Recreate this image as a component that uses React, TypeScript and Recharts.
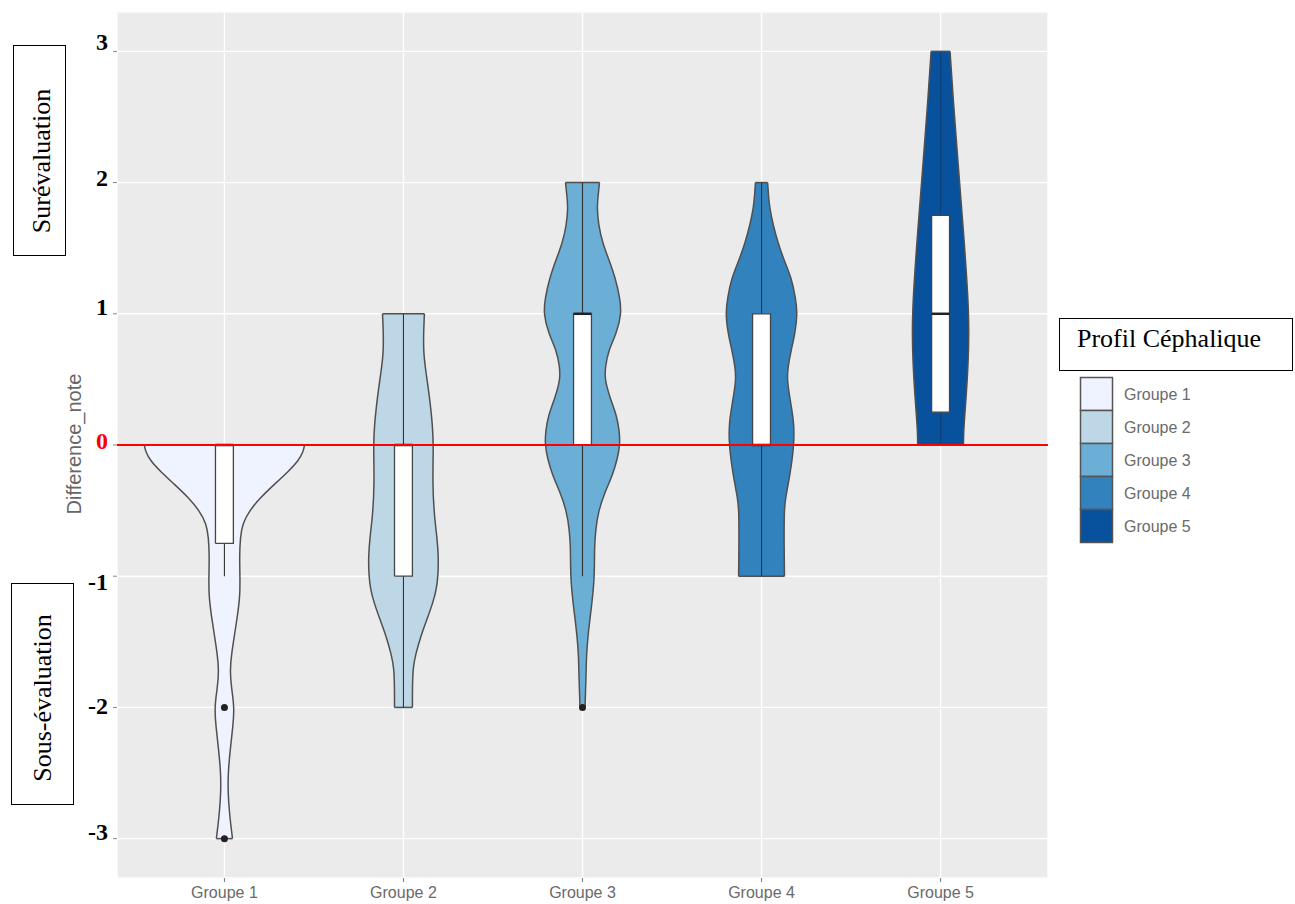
import { Area, CartesianGrid, ComposedChart, Line, ReferenceLine, XAxis, YAxis } from 'recharts'

// categories and colours
const groups = ['Groupe 1', 'Groupe 2', 'Groupe 3', 'Groupe 4', 'Groupe 5']
const centers = [1, 2, 3, 4, 5]
const fills = ['#EFF3FF', '#BDD7E7', '#6BAED6', '#3182BD', '#08519C']

// violin profiles: [Difference_note, half width in category units]
const violin1 = [
  [0, 0.447], [-0.05, 0.441], [-0.12, 0.413], [-0.2, 0.358], [-0.3, 0.279], [-0.4, 0.201],
  [-0.5, 0.14], [-0.6, 0.101], [-0.7, 0.089], [-0.85, 0.084], [-1.0, 0.087], [-1.15, 0.087],
  [-1.3, 0.073], [-1.45, 0.056], [-1.6, 0.039], [-1.72, 0.031], [-1.85, 0.039], [-2.0, 0.056],
  [-2.15, 0.047], [-2.3, 0.034], [-2.5, 0.02], [-2.65, 0.02], [-2.8, 0.028], [-2.9, 0.036], [-3.0, 0.045],
]
const violin2 = [
  [1, 0.117], [0.85, 0.112], [0.7, 0.112], [0.55, 0.126], [0.45, 0.137], [0.3, 0.151], [0.15, 0.162],
  [0, 0.168], [-0.3, 0.162], [-0.55, 0.173], [-0.7, 0.187], [-0.85, 0.196], [-1.0, 0.193], [-1.1, 0.184],
  [-1.2, 0.165], [-1.33, 0.131], [-1.45, 0.098], [-1.6, 0.067], [-1.7, 0.053], [-1.85, 0.05], [-2.0, 0.05],
]
const violin3 = [
  [2, 0.095], [1.9, 0.087], [1.81, 0.081], [1.68, 0.089], [1.54, 0.112], [1.4, 0.151], [1.27, 0.184],
  [1.12, 0.209], [1.0, 0.218], [0.85, 0.19], [0.72, 0.145], [0.6, 0.128], [0.5, 0.123], [0.35, 0.156],
  [0.23, 0.19], [0.1, 0.207], [0, 0.209], [-0.1, 0.196], [-0.23, 0.168], [-0.35, 0.128], [-0.5, 0.089],
  [-0.65, 0.073], [-0.78, 0.067], [-0.92, 0.067], [-1.05, 0.064], [-1.2, 0.053], [-1.32, 0.042],
  [-1.45, 0.031], [-1.6, 0.022], [-1.75, 0.02], [-1.87, 0.017], [-2.0, 0.014],
]
const violin4 = [
  [2, 0.034], [1.9, 0.039], [1.81, 0.045], [1.68, 0.064], [1.54, 0.092], [1.4, 0.128], [1.27, 0.168],
  [1.12, 0.19], [1.0, 0.201], [0.85, 0.187], [0.72, 0.165], [0.6, 0.148], [0.5, 0.142], [0.35, 0.159],
  [0.17, 0.182], [0, 0.182], [-0.23, 0.159], [-0.4, 0.134], [-0.5, 0.126], [-0.78, 0.126], [-1.0, 0.128],
]
const violin5 = [
  [3, 0.053], [2.64, 0.07], [2.14, 0.098], [1.63, 0.128], [1.12, 0.154], [0.86, 0.159], [0.61, 0.154],
  [0.35, 0.142], [0.1, 0.128], [0, 0.128],
]
const violins = [violin1, violin2, violin3, violin4, violin5]

// boxplot stats
const boxLower = [-0.75, -1, 0, 0, 0.25]
const boxUpper = [0, 0, 1, 1, 1.75]
const medians = [0, 0, 1, 0, 1]
const whiskerLower = [-1, -2, -1, -1, 0]
const whiskerUpper = [0, 1, 2, 2, 3]
const outliers = [
  { x: 1, y: -2 },
  { x: 1, y: -3 },
  { x: 3, y: -2 },
]

const yTicks = [-3, -2, -1, 0, 1, 2, 3]
const yMinorTicks = [-2.5, -1.5, -0.5, 0.5, 1.5, 2.5]

const BOX_HALF = 0.05
const OUTLINE = '#505050'
const SERIF = "'Liberation Serif', 'Times New Roman', serif"
const SANS = "'Liberation Sans', Arial, sans-serif"

const violinData = (i: number) =>
  violins[i]
    .map(([y, w]) => ({ y, x: [centers[i] - w, centers[i] + w] }))
    .sort((a, b) => a.y - b.y)

const capData = (i: number, top: boolean) => {
  const prof = violins[i]
  const end = top ? prof[0] : prof[prof.length - 1]
  return [
    { y: end[0], x: centers[i] - end[1] },
    { y: end[0], x: centers[i] + end[1] },
  ]
}

const boxFill = (i: number) => [
  { y: boxLower[i], x: [centers[i] - BOX_HALF, centers[i] + BOX_HALF] },
  { y: boxUpper[i], x: [centers[i] - BOX_HALF, centers[i] + BOX_HALF] },
]
const boxOutline = (i: number) => [
  { y: boxLower[i], x: centers[i] - BOX_HALF },
  { y: boxLower[i], x: centers[i] + BOX_HALF },
  { y: boxUpper[i], x: centers[i] + BOX_HALF },
  { y: boxUpper[i], x: centers[i] - BOX_HALF },
  { y: boxLower[i], x: centers[i] - BOX_HALF },
]

// whisker hardly shows on the darkest violin
const whiskerColor = (i: number) => (i === 4 ? '#123f78' : '#333')

// nudges of the hand-placed y labels
const tickShift: Record<number, number> = { 3: -9, 2: -5, 1: -7, 0: -4, '-1': 6, '-2': -1, '-3': -7 }

const YTick = (props: any) => {
  const { x, y, payload } = props
  return (
    <text
      x={x}
      y={y + (tickShift[payload.value] ?? 0)}
      dy={8}
      textAnchor='end'
      fontFamily={SERIF}
      fontWeight='bold'
      fontSize={24}
      fill={payload.value === 0 ? '#FF0000' : '#000'}
    >
      {payload.value}
    </text>
  )
}

const XTick = (props: any) => {
  const { x, y, payload } = props
  return (
    <text x={x} y={y} dy={14} textAnchor='middle' fontFamily={SANS} fontSize={16} fill='#6a6a6a'>
      {groups[payload.value - 1]}
    </text>
  )
}

const App = () => {
  return (
    <div style={{ position: 'absolute', left: 0, top: 0, width: 1295, height: 904, background: '#fff' }}>
      <ComposedChart
        layout='vertical'
        width={1295}
        height={904}
        margin={{ top: 12, right: 247, bottom: 0, left: 0 }}
      >
        <CartesianGrid fill='#EBEBEB' stroke='#FFFFFF' strokeWidth={1.4} />
        <CartesianGrid yAxisId='minor' vertical={false} stroke='#F7F7F7' strokeWidth={0.7} />
        <XAxis
          type='number'
          domain={[0.4, 5.6]}
          ticks={centers}
          interval={0}
          allowDataOverflow
          axisLine={false}
          tickSize={4}
          tickLine={{ stroke: '#777' }}
          tick={<XTick />}
          height={26}
        />
        <YAxis
          type='number'
          dataKey='y'
          domain={[-3.3, 3.3]}
          ticks={yTicks}
          interval={0}
          allowDataOverflow
          reversed
          width={117}
          axisLine={false}
          tickSize={4}
          tickMargin={5}
          tickLine={{ stroke: '#888' }}
          tick={<YTick />}
        />
        <YAxis yAxisId='minor' type='number' dataKey='y' domain={[-3.3, 3.3]} ticks={yMinorTicks} reversed hide />

        {groups.map((g, i) => (
          <Area
            key={'violin' + i}
            data={violinData(i)}
            dataKey='x'
            type='basis'
            fill={fills[i]}
            fillOpacity={1}
            stroke={OUTLINE}
            strokeWidth={1.5}
            dot={false}
            activeDot={false}
            isAnimationActive={false}
          />
        ))}
        {groups.map((g, i) => (
          <Line key={'capT' + i} data={capData(i, true)} dataKey='x' stroke={OUTLINE} strokeWidth={1.5} dot={false} isAnimationActive={false} />
        ))}
        {groups.map((g, i) => (
          <Line key={'capB' + i} data={capData(i, false)} dataKey='x' stroke={OUTLINE} strokeWidth={1.5} dot={false} isAnimationActive={false} />
        ))}
        {groups.map((g, i) => (
          <Line
            key={'wl' + i}
            data={[{ y: whiskerLower[i], x: centers[i] }, { y: boxLower[i], x: centers[i] }]}
            dataKey='x'
            stroke={whiskerColor(i)}
            strokeWidth={1.1}
            dot={false}
            isAnimationActive={false}
          />
        ))}
        {groups.map((g, i) => (
          <Line
            key={'wu' + i}
            data={[{ y: boxUpper[i], x: centers[i] }, { y: whiskerUpper[i], x: centers[i] }]}
            dataKey='x'
            stroke={whiskerColor(i)}
            strokeWidth={1.1}
            dot={false}
            isAnimationActive={false}
          />
        ))}
        {groups.map((g, i) => (
          <Area
            key={'box' + i}
            data={boxFill(i)}
            dataKey='x'
            type='linear'
            fill='#FFFFFF'
            fillOpacity={1}
            stroke='none'
            dot={false}
            activeDot={false}
            isAnimationActive={false}
          />
        ))}
        {groups.map((g, i) => (
          <Line key={'boxo' + i} data={boxOutline(i)} dataKey='x' stroke='#454545' strokeWidth={1.3} dot={false} isAnimationActive={false} />
        ))}
        {groups.map((g, i) => (
          <Line
            key={'med' + i}
            data={[{ y: medians[i], x: centers[i] - BOX_HALF }, { y: medians[i], x: centers[i] + BOX_HALF }]}
            dataKey='x'
            stroke='#222'
            strokeWidth={2.5}
            dot={false}
            isAnimationActive={false}
          />
        ))}
        <Line
          data={outliers}
          dataKey='x'
          stroke='none'
          dot={{ r: 3.5, fill: '#222', stroke: '#222', strokeWidth: 0 }}
          activeDot={false}
          isAnimationActive={false}
        />
        <ReferenceLine y={0} stroke='#FF0000' strokeWidth={2} />
      </ComposedChart>

      <svg width={1295} height={904} style={{ position: 'absolute', left: 0, top: 0, pointerEvents: 'none' }}>
        <text
          x={74}
          y={444}
          transform='rotate(-90 74 444)'
          textAnchor='middle'
          dominantBaseline='central'
          fontFamily={SANS}
          fontSize={20}
          fill='#666'
        >
          Difference_note
        </text>

        <rect x={13.5} y={45.5} width={52} height={210} fill='#fff' stroke='#000' strokeWidth={1} />
        <text
          x={41}
          y={161}
          transform='rotate(-90 41 161)'
          textAnchor='middle'
          dominantBaseline='central'
          fontFamily={SERIF}
          fontSize={26}
          fill='#000'
        >
          Surévaluation
        </text>

        <rect x={11.5} y={583.5} width={62} height={221} fill='#fff' stroke='#000' strokeWidth={1} />
        <text
          x={42}
          y={698}
          transform='rotate(-90 42 698)'
          textAnchor='middle'
          dominantBaseline='central'
          fontFamily={SERIF}
          fontSize={26}
          fill='#000'
        >
          Sous-évaluation
        </text>

        <rect x={1059.5} y={318.5} width={233} height={52} fill='#fff' stroke='#000' strokeWidth={1} />
        <text x={1077} y={347} fontFamily={SERIF} fontSize={26} fill='#000'>
          Profil Céphalique
        </text>

        {groups.map((g, i) => (
          <g key={g}>
            <rect x={1080.5} y={377.5 + i * 33} width={32} height={33} fill={fills[i]} stroke='#555' strokeWidth={1.5} />
            <text x={1124} y={394 + i * 33} dominantBaseline='central' fontFamily={SANS} fontSize={16} fill='#6a6a6a'>
              {g}
            </text>
          </g>
        ))}
      </svg>
    </div>
  )
}

export default App
